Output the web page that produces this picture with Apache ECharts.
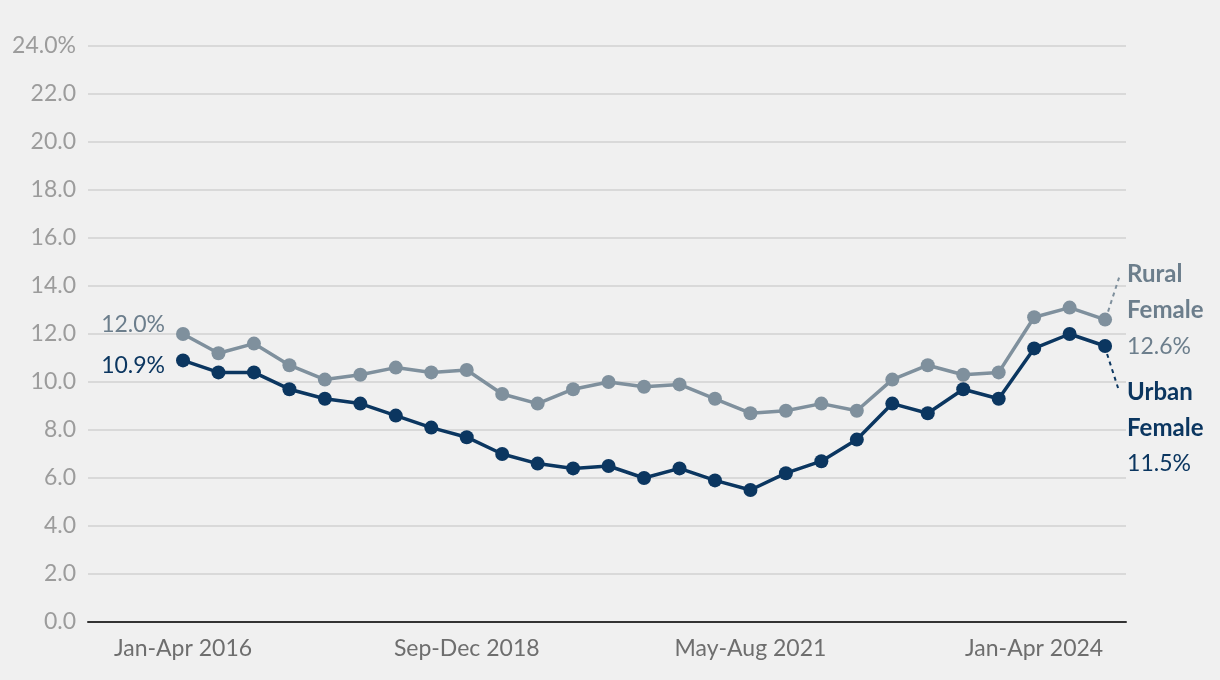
<!DOCTYPE html>
<html><head><meta charset="utf-8">
<script src="https://cdn.jsdelivr.net/npm/echarts@6/dist/echarts.min.js"></script>
<style>html,body{margin:0;padding:0;background:#f0f0f0;}#c{width:1220px;height:680px;}</style>
</head><body><div id="c"></div>
<script>
var categories = [];
var years = [2016,2017,2018,2019,2020,2021,2022,2023,2024];
var periods = ['Jan-Apr','May-Aug','Sep-Dec'];
years.forEach(function(y){ periods.forEach(function(p){ categories.push(p + ' ' + y); }); });

var ruralFemale = [12.0,11.2,11.6,10.7,10.1,10.3,10.6,10.4,10.5,9.5,9.1,9.7,10.0,9.8,9.9,9.3,8.7,8.8,9.1,8.8,10.1,10.7,10.3,10.4,12.7,13.1,12.6];
var urbanFemale = [10.9,10.4,10.4,9.7,9.3,9.1,8.6,8.1,7.7,7.0,6.6,6.4,6.5,6.0,6.4,5.9,5.5,6.2,6.7,7.6,9.1,8.7,9.7,9.3,11.4,12.0,11.5];
var xTickIndices = [0,8,16,24];
var yTicks = [0,2,4,6,8,10,12,14,16,18,20,22,24];

var FONT = 'Lato, "Noto Sans", sans-serif';
var RURAL = '#7f909d', RURAL_TXT = '#6c7e8c', URBAN = '#0b3660';
var last = categories.length - 1;

function pts(arr){ return arr.map(function(v,i){ return [i, v]; }); }

function seriesLabel(arr, name, txtColor){
  return {
    show: true,
    formatter: function(p){
      if (p.dataIndex === 0) return '{s|' + arr[0].toFixed(1) + '%}';
      if (p.dataIndex === last) return '{b|' + name + '}\n{b|Female}\n{n|' + arr[last].toFixed(1) + '%}';
      return '';
    },
    rich: {
      s: {fontFamily: FONT, fontSize: 23, color: txtColor},
      b: {fontFamily: FONT, fontSize: 24, fontWeight: 'bold', color: txtColor, lineHeight: 36},
      n: {fontFamily: FONT, fontSize: 23, color: txtColor, lineHeight: 36}
    }
  };
}

var chart = echarts.init(document.getElementById('c'));
var option = {
  backgroundColor: '#f0f0f0',
  animation: false,
  grid: {left: 88, right: 94, top: 46, bottom: 58},
  xAxis: {
    type: 'value', min: -2.679, max: 26.59,
    splitLine: {show: false},
    axisTick: {show: false},
    axisLine: {show: true, onZero: true, lineStyle: {color: '#333', width: 2}},
    axisLabel: {
      customValues: xTickIndices,
      formatter: function(v){ return categories[Math.round(v)] || ''; },
      fontFamily: FONT, fontSize: 23, color: '#6e6e6e', margin: 15
    }
  },
  yAxis: {
    type: 'value', min: 0, max: 24, interval: 2,
    axisLine: {show: false}, axisTick: {show: false},
    splitLine: {lineStyle: {color: '#d9d9d9', width: 2}},
    axisLabel: {
      formatter: function(v){ return v === 24 ? '24.0%' : v.toFixed(1); },
      fontFamily: FONT, fontSize: 23, color: '#9c9c9c', margin: 12
    }
  },
  series: [
    {
      name: 'Rural Female', type: 'line', data: pts(ruralFemale),
      symbol: 'circle', symbolSize: 14, z: 3,
      lineStyle: {color: RURAL, width: 3.5}, itemStyle: {color: RURAL},
      label: seriesLabel(ruralFemale, 'Rural', RURAL_TXT),
      labelLayout: function(p){
        if (p.dataIndex === 0) return {x: p.rect.x - 11, y: p.rect.y - 2, align: 'right', verticalAlign: 'middle'};
        if (p.dataIndex === last) return {x: p.rect.x + p.rect.width/2 + 22, y: p.rect.y + p.rect.height/2 - 9, align: 'left', verticalAlign: 'middle'};
      }
    },
    {
      name: 'Urban Female', type: 'line', data: pts(urbanFemale),
      symbol: 'circle', symbolSize: 14, z: 4,
      lineStyle: {color: URBAN, width: 3.5}, itemStyle: {color: URBAN},
      label: seriesLabel(urbanFemale, 'Urban', URBAN),
      labelLayout: function(p){
        if (p.dataIndex === 0) return {x: p.rect.x - 11, y: p.rect.y + p.rect.height/2 + 5, align: 'right', verticalAlign: 'middle'};
        if (p.dataIndex === last) return {x: p.rect.x + p.rect.width/2 + 22, y: p.rect.y + p.rect.height/2 + 82, align: 'left', verticalAlign: 'middle'};
      }
    }
  ]
};
chart.setOption(option);

var pr = chart.convertToPixel({gridIndex: 0}, [last, ruralFemale[last]]);
var pu = chart.convertToPixel({gridIndex: 0}, [last, urbanFemale[last]]);
chart.setOption({
  graphic: [
    {type: 'line', z: 10, shape: {x1: pr[0] + 3, y1: pr[1] - 8, x2: pr[0] + 14, y2: pr[1] - 42},
     style: {stroke: RURAL, lineWidth: 2, lineDash: [4, 4]}},
    {type: 'line', z: 10, shape: {x1: pu[0] + 2, y1: pu[1] + 8, x2: pu[0] + 13, y2: pu[1] + 42},
     style: {stroke: URBAN, lineWidth: 2, lineDash: [4, 4]}}
  ]
});
</script></body></html>
